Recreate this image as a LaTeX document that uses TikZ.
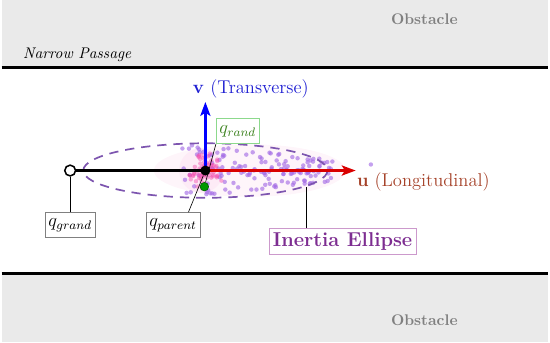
\documentclass[tikz,border=0pt]{standalone}
\usetikzlibrary{arrows.meta, calc}

\definecolor{obstfill}{RGB}{234,234,234}
\definecolor{ellcolor}{RGB}{125,85,175}
\definecolor{ellText}{RGB}{125,45,145}
\definecolor{randgreen}{RGB}{60,130,30}
\definecolor{ulabel}{RGB}{165,65,40}
\definecolor{vlabel}{RGB}{30,30,210}
\definecolor{dotviolet}{RGB}{165,110,230}

\begin{document}
\begin{tikzpicture}[x=0.023cm, y=-0.023cm,
    obstacle/.style={font=\bfseries, text=gray},
    qbox/.style={draw=gray, fill=white, inner sep=2pt, font=\large, minimum height=25*0.023cm},
    pinline/.style={thin, black},
    axisarrow/.style={line width=2pt, -{Stealth[length=9pt, width=6.5pt, inset=2pt]}}]

    % Obstacles and passage walls
    \fill[obstfill] (4,3) rectangle (546,68);
    \fill[obstfill] (4,276) rectangle (546,342);
    \draw[line width=2pt] (4,70) -- (546,70);
    \draw[line width=2pt] (4,274) -- (546,274);
    \node[obstacle] (obsTop) at (423,22) {Obstacle};
    \node[obstacle] (obsBot) at (423,320) {Obstacle};
    \node[font=\itshape] (passage) at (79,57) {Narrow Passage};

    % Key points
    \coordinate (parent) at (206,172);
    \coordinate (grand) at (72,172);
    \coordinate (uTip) at (355,172);
    \coordinate (vTip) at (206,104);
    \coordinate (ellPin) at (306,188);

    % Faint haze and sample cloud
    \fill[magenta!4] (250,172) ellipse [x radius=95, y radius=26];
    \fill[magenta!8] (202,172) circle [radius=22];
    \pgfmathsetseed{17}
    \foreach \i in {1,...,150} {
        \pgfmathsetmacro{\dx}{-24+150*rnd}
        \pgfmathsetmacro{\dy}{25*rand*(1-max(\dx,0)/220)}
        \fill[dotviolet, opacity=0.65] ($(parent)+(\dx,\dy)$) circle [radius=2.2];
    }
    \foreach \i in {1,...,80} {
        \pgfmathsetmacro{\ra}{19*rnd}
        \pgfmathsetmacro{\an}{360*rnd}
        \fill[magenta!70, opacity=0.45] ($(parent)+(\an:\ra)$) circle [radius=2.2];
    }
    \fill[dotviolet, opacity=0.65] (370,166) circle [radius=2.2];

    % Inertia ellipse
    \draw[ellcolor, line width=1.1pt, dash pattern=on 6pt off 4.5pt] (parent) ellipse [x radius=121, y radius=27];

    % Tree edge and principal axes
    \draw[line width=1.4pt] (grand) -- (parent);
    \draw[axisarrow, red!85!black] (parent) -- (uTip);
    \draw[axisarrow, blue] (parent) -- (vTip);

    % Tree nodes
    \node[circle, draw, fill=white, line width=1pt, inner sep=0pt, minimum size=7pt] (grandPt) at (grand) {};
    \node[circle, fill=black, inner sep=0pt, minimum size=6.5pt] (parentPt) at (parent) {};
    \node[circle, draw=green!40!black, fill=green!60!black, inner sep=0pt, minimum size=5.5pt] (randPt) at (205,188) {};

    % Labels
    \node[qbox] (grandLbl) at (72,226) {$q_{grand}$};
    \node[qbox] (parentLbl) at (174,226) {$q_{parent}$};
    \node[qbox, draw=green!50!gray!60, text=randgreen] (randLbl) at (238,133) {$q_{rand}$};
    \node[draw=violet!40, fill=white, text=ellText, font=\bfseries\fontsize{13}{15}\selectfont, inner sep=2.5pt] (ellLbl) at (342,242) {Inertia Ellipse};
    \node[text=ulabel, font=\large] (uLbl) at (422,183) {$\mathbf{u}$ (Longitudinal)};
    \node[text=vlabel, font=\large] (vLbl) at (251,91) {$\mathbf{v}$ (Transverse)};

    \draw[pinline] (grandLbl) -- (grandPt);
    \draw[pinline] (parentLbl.40) -- (parentPt);
    \draw[pinline] (randLbl.south west) -- (randPt);
    \draw[pinline] (ellPin |- ellLbl.north) -- (ellPin);

\end{tikzpicture}
\end{document}
